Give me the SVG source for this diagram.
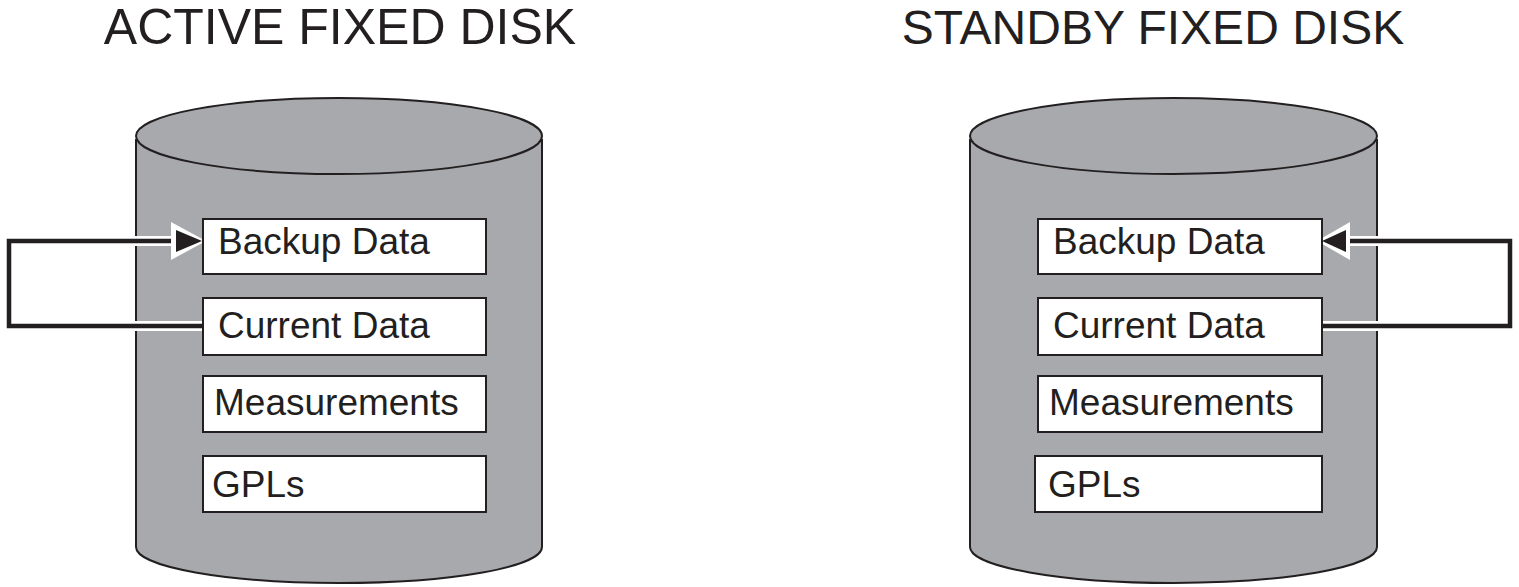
<svg xmlns="http://www.w3.org/2000/svg" width="1519" height="587" viewBox="0 0 1519 587">
<style>
.title{font-family:"Liberation Sans",Arial,sans-serif;font-size:48px;fill:#231f20;text-anchor:middle}
.lbl{font-family:"Liberation Sans",Arial,sans-serif;font-size:37px;fill:#231f20}
.cyl{fill:#a7a9ac;stroke:#231f20;stroke-width:2}
.box{fill:#fff;stroke:#231f20;stroke-width:2}
.halo{fill:none;stroke:#fff;stroke-width:10;stroke-linejoin:miter}
.wire{fill:none;stroke:#231f20;stroke-width:4.5;stroke-linejoin:miter}
.ahw{fill:#fff}
.ahb{fill:#231f20}
</style>
<rect width="1519" height="587" fill="#fff"/>
<text class="title" x="340" y="44" style="font-size:50px">ACTIVE FIXED DISK</text>
<text class="title" x="1153" y="44">STANDBY FIXED DISK</text>

<g id="active-disk">
<path class="cyl" d="M136,140 L136,547 A203,36 0 0 0 542,547 L542,140 Z"/>
<ellipse class="cyl" cx="339" cy="136" rx="203" ry="38"/>
</g>
<g id="standby-disk">
<path class="cyl" d="M970,140 L970,547 A203.5,36 0 0 0 1377,547 L1377,140 Z"/>
<ellipse class="cyl" cx="1173.5" cy="136" rx="203.5" ry="38"/>
</g>

<g id="connectors">
<path class="halo" d="M203,326 L9,326 L9,241 L180,241"/>
<path class="halo" d="M1322,326 L1510,326 L1510,241 L1344,241"/>
<path class="wire" d="M203,326 L9,326 L9,241 L180,241"/>
<path class="wire" d="M1322,326 L1510,326 L1510,241 L1344,241"/>
<polygon class="ahw" points="171,222 206,241 171,260"/>
<polygon class="ahb" points="176,230 202,241 176,252"/>
<polygon class="ahw" points="1350,222 1317,241 1350,260"/>
<polygon class="ahb" points="1346,230 1322,241 1346,252"/>
</g>

<g id="active-backup"><rect class="box" x="203" y="219" width="283" height="55"/><text class="lbl" x="218" y="254">Backup Data</text></g>
<g id="active-current"><rect class="box" x="203" y="298" width="283" height="57"/><text class="lbl" x="218" y="338">Current Data</text></g>
<g id="active-measurements"><rect class="box" x="203" y="376" width="283" height="56"/><text class="lbl" x="214" y="415">Measurements</text></g>
<g id="active-gpls"><rect class="box" x="203" y="456" width="283" height="56"/><text class="lbl" x="212" y="497">GPLs</text></g>

<g id="standby-backup"><rect class="box" x="1038" y="219" width="284" height="55"/><text class="lbl" x="1053" y="254">Backup Data</text></g>
<g id="standby-current"><rect class="box" x="1038" y="298" width="284" height="57"/><text class="lbl" x="1053" y="338">Current Data</text></g>
<g id="standby-measurements"><rect class="box" x="1038" y="376" width="284" height="56"/><text class="lbl" x="1049" y="415">Measurements</text></g>
<g id="standby-gpls"><rect class="box" x="1035" y="456" width="287" height="56"/><text class="lbl" x="1048" y="497">GPLs</text></g>
</svg>
